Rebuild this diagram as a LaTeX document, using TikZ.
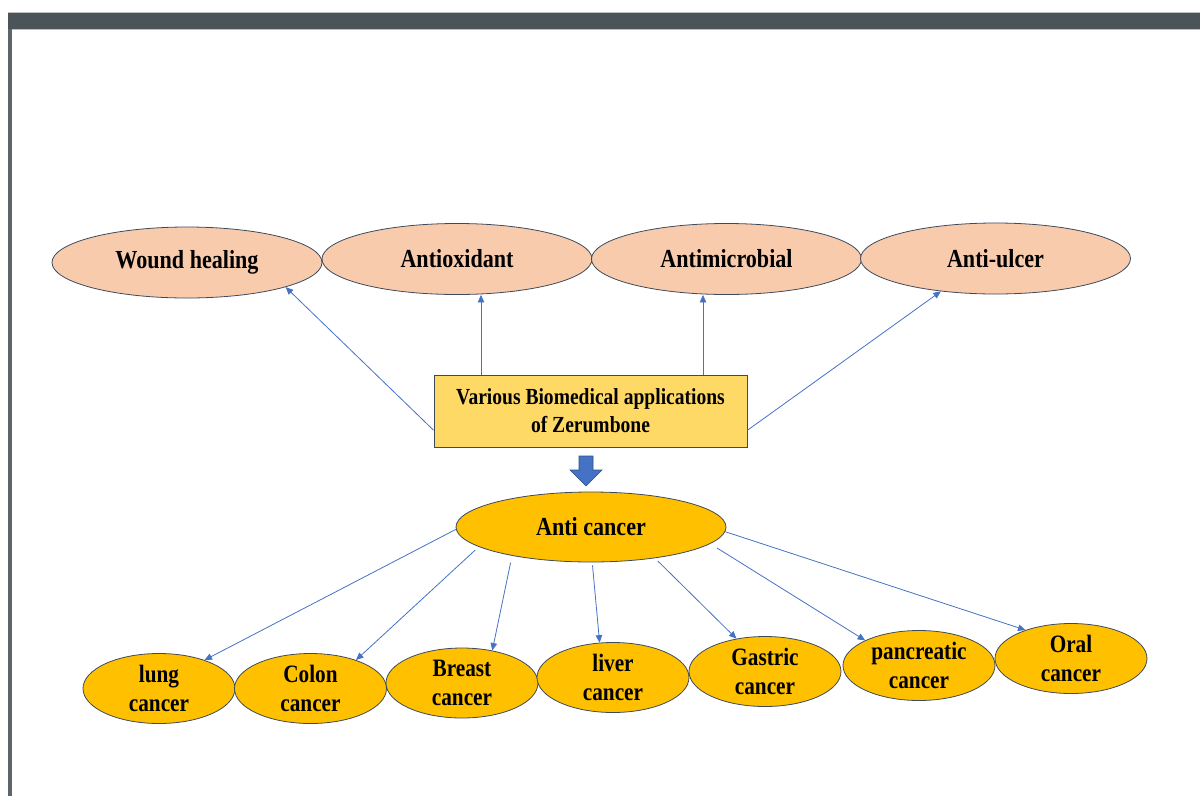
\documentclass[tikz,border=0pt]{standalone}
\usepackage{fontspec}
\setmainfont{Liberation Serif}[FakeStretch=0.85]
\usetikzlibrary{shapes.geometric,arrows.meta}

\definecolor{peach}{HTML}{F8CBAD}
\definecolor{gold}{HTML}{FFD966}
\definecolor{amber}{HTML}{FFC000}
\definecolor{rimgray}{HTML}{3D4A5C}
\definecolor{linkblue}{HTML}{4472C4}
\definecolor{framegray}{HTML}{4B5459}

\begin{document}
\begin{tikzpicture}[x=1pt, y=-1pt,
    app node/.style={ellipse, draw=rimgray, line width=0.8pt, fill=peach, minimum width=270pt, minimum height=71pt, inner sep=0pt, font=\fontsize{26}{30}\selectfont\bfseries},
    cancer node/.style={ellipse, draw=rimgray, line width=0.8pt, fill=amber, minimum width=152pt, minimum height=70pt, inner xsep=0pt, inner ysep=-4pt, align=center, font=\fontsize{25}{29}\selectfont\bfseries},
    link/.style={draw=linkblue, line width=0.8pt, -{Triangle[length=7.5pt,width=6.5pt]}}]

    \useasboundingbox (0,0) rectangle (1200,796);

    % window frame
    \fill[framegray] (8,12) rectangle (1200,29);
    \fill[framegray!90] (8,29) rectangle (12,796);
    \draw[gray!50, line width=0.8pt] (8,12.4) -- (1200,12.4);
    \draw[gray!50, line width=0.8pt] (12.4,29) -- (1200,29);

    % Applications
    \node[app node] (wh) at (187,262.5) {Wound healing};
    \node[app node] (ox) at (457,259) {Antioxidant};
    \node[app node] (am) at (726.5,259) {Antimicrobial};
    \node[app node] (au) at (995.5,258.5) {Anti-ulcer};

    \node[draw=rimgray, line width=0.8pt, fill=gold, minimum width=313pt, minimum height=72pt, align=center, font=\fontsize{23}{28}\selectfont\bfseries] (zb) at (590.5,411) {Various Biomedical applications\\of Zerumbone};

    \draw[link] (zb.187) -- (wh.-14);
    \draw[link] ([xshift=-109.5pt]zb.north) -- ([xshift=-109.5pt]zb.north |- ox.south);
    \draw[link] ([xshift=112.5pt]zb.north) -- ([xshift=112.5pt]zb.north |- am.south);
    \draw[link] (zb.-7) -- (au.211);

    % block arrow
    \filldraw[fill=linkblue, draw=linkblue!70!black, line width=0.6pt] (579,456) -- (593,456) -- (593,470) -- (602,470) -- (586,486) -- (570,470) -- (579,470) -- cycle;

    % Anti cancer
    \node[app node, fill=amber, minimum height=70pt] (ac) at (591,527) {Anti cancer};

    \node[cancer node] (lung) at (159,688.5) {lung\\cancer};
    \node[cancer node] (colon) at (310.5,688.5) {Colon\\cancer};
    \node[cancer node] (breast) at (462,683) {Breast\\cancer};
    \node[cancer node] (liver) at (613,677.5) {liver\\cancer};
    \node[cancer node] (gastric) at (765,671.5) {Gastric\\cancer};
    \node[cancer node] (panc) at (919,665.5) {pancreatic\\cancer};
    \node[cancer node] (oral) at (1071,658.5) {Oral\\cancer};

    \draw[link] (ac.181) -- (lung.32);
    \draw[link, shorten <=5pt] (ac.190) -- (colon.32);
    \draw[link, shorten <=7pt] (ac.200) -- (breast.47);
    \draw[link, shorten <=3pt] (ac.-88) -- (liver.111);
    \draw[link, shorten <=4pt] (ac.-26) -- (gastric.131);
    \draw[link, shorten <=8pt] (ac.-8) -- (panc.155);
    \draw[link] (ac.-2) -- (oral.148);

\end{tikzpicture}
\end{document}
